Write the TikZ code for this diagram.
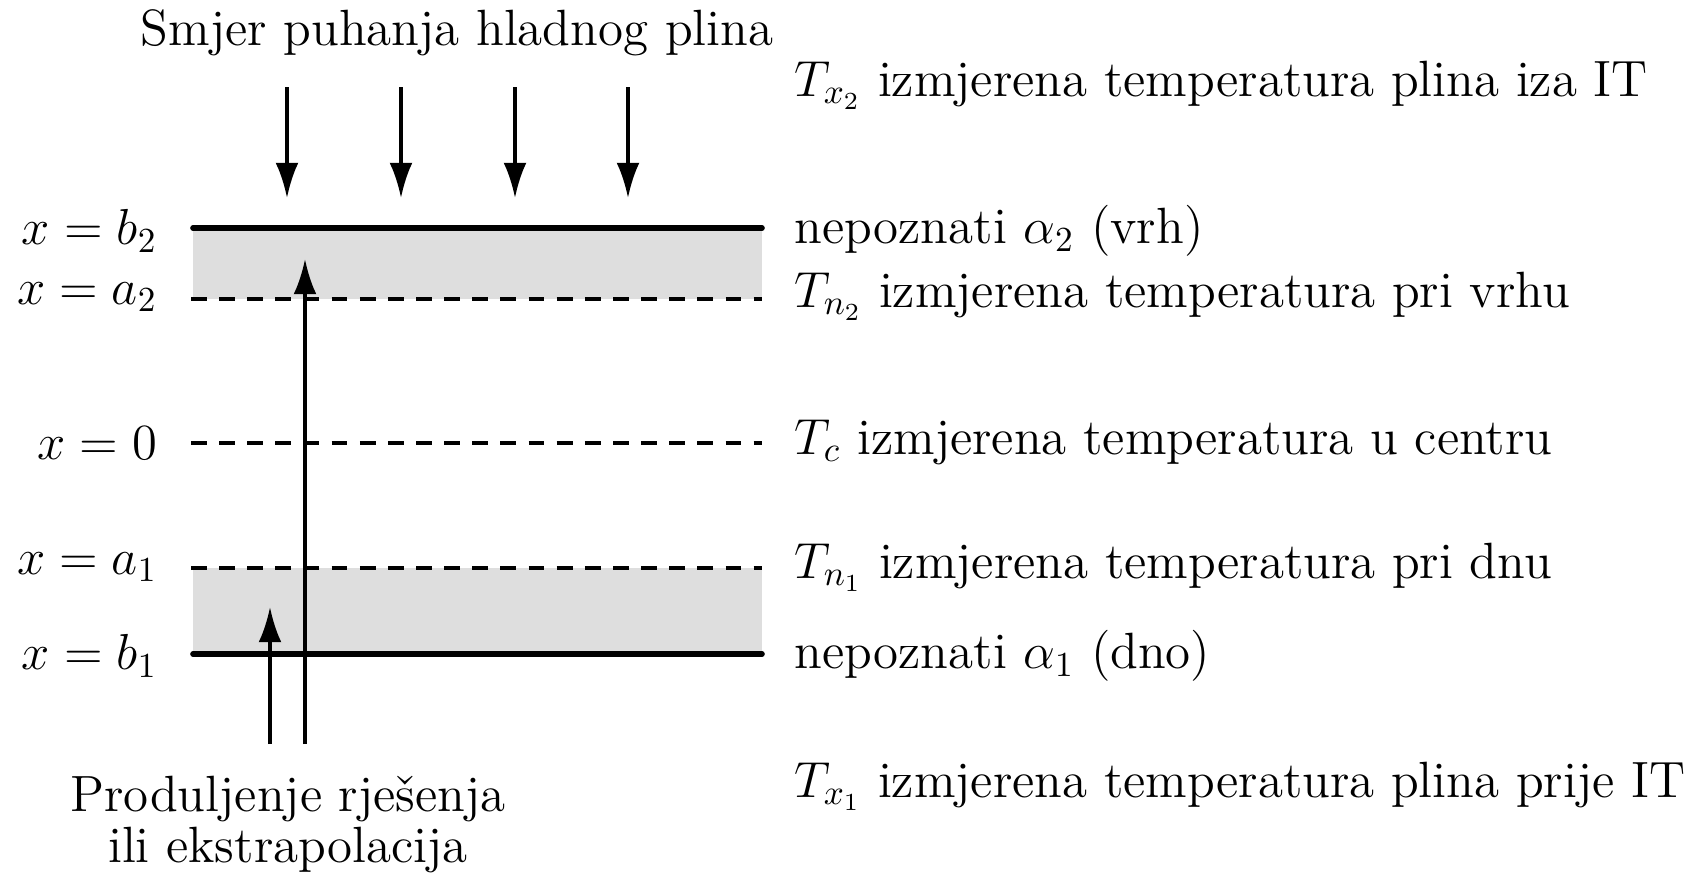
\documentclass[tikz,border=0pt]{standalone}
\usepackage{tikz}
\usetikzlibrary{arrows.meta,positioning}
\definecolor{band}{HTML}{DEDEDE}
\tikzset{
  lbl/.style={font=\fontsize{14.5}{14.5}\selectfont, inner sep=0pt},
  lvlleft/.style={lbl, anchor=east},
  lvlright/.style={lbl, anchor=west},
  wall/.style={line width=1.6pt, line cap=round},
  lvl/.style={line width=1.1pt, dash pattern=on 4.5pt off 3.5pt},
  ar/.style={-{Latex[length=10pt,width=6.5pt]}, line width=1pt}
}

\begin{document}
\begin{tikzpicture}[x=0.01cm,y=-0.01cm]
  \useasboundingbox (0,0) rectangle (1706,872);

  % grey bands
  \fill[band] (193,228) rectangle (762,299);
  \fill[band] (193,568) rectangle (762,654);

  % levels
  \draw[wall] (193,228) -- (762,228);
  \draw[lvl] (191,299) -- (762,299);
  \draw[lvl] (191,443) -- (762,443);
  \draw[lvl] (191,568) -- (762,568);
  \draw[wall] (193,654) -- (762,654);

  % left labels
  \node[lvlleft] (lb2) at (158,231) {$x=b_2$};
  \node[lvlleft] (la2) at (158,297) {$x=a_2$};
  \node[lvlleft] (lc)  at (158,443) {$x=0$};
  \node[lvlleft] (la1) at (158,567) {$x=a_1$};
  \node[lvlleft] (lb1) at (158,656) {$x=b_1$};

  % right labels
  \node[lvlright] (tx2) at (794,85)  {$T_{x_2}$ izmjerena temperatura plina iza IT};
  \node[lvlright] (nb2) at (794,231) {nepoznati $\alpha_2$ (vrh)};
  \node[lvlright] (tn2) at (794,296) {$T_{n_2}$ izmjerena temperatura pri vrhu};
  \node[lvlright] (tc)  at (794,442) {$T_c$ izmjerena temperatura u centru};
  \node[lvlright] (tn1) at (794,567) {$T_{n_1}$ izmjerena temperatura pri dnu};
  \node[lvlright] (nb1) at (794,656) {nepoznati $\alpha_1$ (dno)};
  \node[lvlright] (tx1) at (794,786) {$T_{x_1}$ izmjerena temperatura plina prije IT};

  % cold gas from above
  \node[lbl] (title) at (457,33) {Smjer puhanja hladnog plina};
  \foreach \i/\x in {1/287,2/401,3/515,4/628} {
    \coordinate (in\i) at (\x,87);
    \coordinate (out\i) at (\x,198);
    \draw[ar] (in\i) -- (out\i);
  }

  % extrapolation
  \node[lbl, align=center] (ext) at (288,824) {Produljenje rješenja\\ili ekstrapolacija};
  \coordinate (s1) at (270,744);
  \coordinate (e1) at (270,607);
  \coordinate (s2) at (305,744);
  \coordinate (e2) at (305,259);
  \draw[ar] (s1) -- (e1);
  \draw[ar] (s2) -- (e2);
\end{tikzpicture}
\end{document}
